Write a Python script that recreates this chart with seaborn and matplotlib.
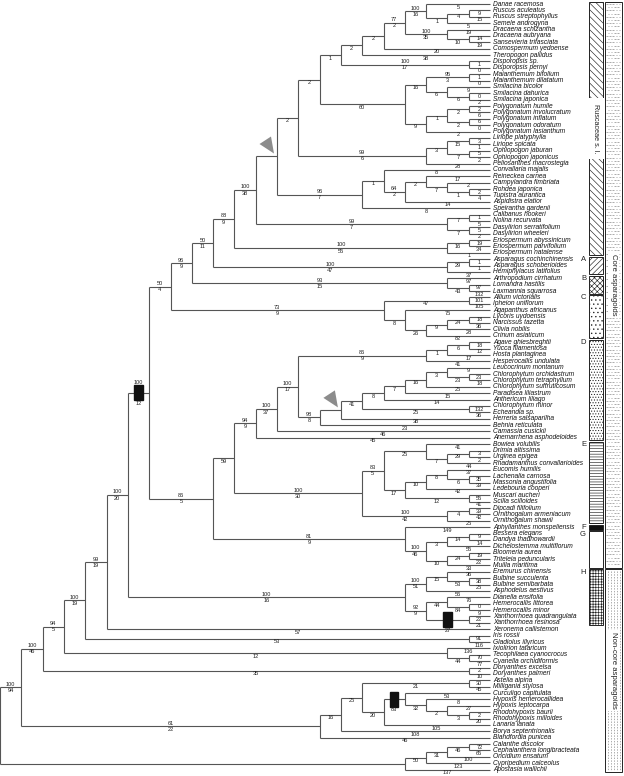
import re
import numpy as np
import matplotlib
matplotlib.use("Agg")
import matplotlib.pyplot as plt
from matplotlib.patches import Rectangle, Polygon
import seaborn as sns

# tree pieces in newick form; after ':' comes "above/below" branch text,
# '*' puts a black bar on the branch, '^' a grey triangle at its end
RUSC_CORE = ("((Danae_racemosa:5,((Ruscus_aculeatus:9,Ruscus_streptophyllus:15):4,Semele_androgyna:5):1):100/16,"
             "(Dracaena_schizantha:19,(Dracaena_aubryana:14,Sansevieria_trifasciata:19):10):100/35)")
POLYG = ("(((Maianthemum_bifolium:1,Maianthemum_dilatatum:0):95/3,(Smilacina_bicolor:9,(Smilacina_dahurica:0,"
         "Smilacina_japonica:2):6):6):16,(((Polygonatum_humile:2,Polygonatum_involucratum:6):2,(Polygonatum_inflatum:6,"
         "Polygonatum_odoratum:0):2):1,Polygonatum_lasianthum:2):9)")
OPHIO = ("(((Liriope_platyphylla:3,Liriope_spicata:1):15,(Ophiopogon_jaburan:5,Ophiopogon_japonicus:2):7):3,"
         "Peliosanthes_macrostegia:28)")
CONVAL = ("((Convallaria_majalis:8,((Reineckea_carnea:17,(Campylandra_fimbriata:2,(Rohdea_japonica:2,"
          "Tupistra_aurantica:4):1):7):2,Aspidistra_elatior:14):64/2):1,Speirantha_gardenii:8)")
NOLINA = "((Calibanus_hookeri:1,Nolina_recurvata:5):7,(Dasylirion_serratifolium:5,Dasylirion_wheeleri:2):7)"
ERIOSP = "((Eriospermum_abyssinicum:19,Eriospermum_parvifolium:34):16,Eriospermum_natalense:1)"
RUSCACEAE = ("((((((((" + RUSC_CORE + ":77/2,Comospermum_yedoense:20):2,Theropogon_pallidus:38):2,"
             "(Disporopsis_sp.:1,Disporopsis_pernyi:0):100/17):1," + POLYG + ":60):2," + OPHIO + ":99/6):2,"
             + CONVAL + ":96/7):^," + NOLINA + ":99/7):100/38," + ERIOSP + ":100/55)")
ASPARAGUS = "((Asparagus_cochinchinensis:1,Asparagus_schoberioides:1):29,Hemiphylacus_latifolius:37)"
LOMANDRA = "(Arthropodium_cirrhatum:97,(Lomandra_hastilis:97,Laxmannia_squarrosa:132):43)"
AMARYL = ("((Allium_victorialis:101,Ipheion_uniflorum:105):47,(Agapanthus_africanus:75,(((Lycoris_uydoensis:18,"
          "Narcissus_tazetta:36):24,Clivia_nobilis:28):9,Crinum_asiaticum:82):26):8)")
AGAVE = ("(((Agave_ghiesbreghtii:18,Yucca_filamentosa:12):6,Hosta_plantaginea:17):1,Hesperocallis_undulata:41)")
CHLORO = ("((((((Leucocrinum_montanum:9,(Chlorophytum_orchidastrum:23,Chlorophytum_tetraphyllum:18):23):3,"
          "Chlorophytum_suffruticosum:25):16,Paradisea_liliastrum:15):7,Anthericum_liliago:14):8,"
          "(Chlorophytum_minor:132,Echeandia_sp.:36):25):41,Herreria_salsaparilha:38)")
SCILLA = ("(((Bowiea_volubilis:41,((Drimia_altissima:3,Urginea_epigea:2):29,Rhadamanthus_convallarioides:44):7):25,"
          "(((Eucomis_humilis:37,(Lachenalia_carnosa:35,Massonia_angustifolia:39):6):8,Ledebouria_cooperi:42):10,"
          "(Muscari_aucheri:55,Scilla_scilloides:41):12):17):83/5,((Dipcadi_filifolium:39,"
          "Ornithogalum_armeniacum:42):4,Ornithogalum_shawii:25):100/42)")
ASPHOD = ("((((" + AGAVE + ":86/9,(" + CHLORO + ":^,Behnia_reticulata:23):98/8):100/17,Camassia_cusickii:46):100/37,"
          "Anemarrhena_asphodeloides:45):94/9," + SCILLA + ":100/30)")
THEMID = ("(Aphyllanthes_monspeliensis:149,(((Bessera_elegans:9,Dandya_thadhowardii:14):14,"
          "Dichelostemma_multiflorum:55):3,((Bloomeria_aurea:19,Triteleia_peduncularis:22):24,Muilla_maritima:33):10):100/46)")
CORE = ("((((" + RUSCACEAE + ":88/9," + ASPARAGUS + ":100/47):50/11," + LOMANDRA + ":93/15):96/9," + AMARYL
        + ":73/9):50/4,(" + ASPHOD + ":59," + THEMID + ":81/9):86/5)")
XANTHO = ("(((Eremurus_chinensis:36,(Bulbine_succulenta:38,Bulbine_semibarbata:25):53):15,Asphodelus_aestivus:56):100/51,"
          "((Dianella_ensifolia:76,(Hemerocallis_littorea:0,Hemerocallis_minor:9):84):44,"
          "(Xanthorrhoea_quadrangulata:22,Xanthorrhoea_resinosa:21):*27):92/9)")
HYPOX = ("((((Astelia_alpina:30,Milligania_stylosa:45):21,((Curculigo_capitulata:53,(Hypoxis_hemerocallidea:8,"
         "(Hypoxis_leptocarpa:27,(Rhodohypoxis_baurii:2,Rhodohypoxis_milloides:20):3):2):32):*/83,Lanaria_lanata:105):20):25,"
         "Borya_septentrionalis:108):16,Blandfordia_punicea:46)")
ORCHIDS = ("((((Calanthe_discolor:72,Cephalanthera_longibracteata:65):46,Oncidium_ensatum:100):31,"
           "Cypripedium_calceolus:123):50,Apostasia_wallichii:137)")
TREE = ("(((((((" + CORE + ":*100/12," + XANTHO + ":100/16):100/20,Xeronema_callistemon:57):99/19,"
        "(Iris_rossii:91,Gladiolus_illyricus:116):53):100/19,(Ixiolirion_tataricum:136,(Tecophilaea_cyanocrocus:70,"
        "Cyanella_orchidiformis:77):44):12):94/5,(Doryanthes_excelsa:2,Doryanthes_palmeri:10):35):100/46,"
        + HYPOX + ":61/22):100/94," + ORCHIDS + ")")

# side bars: letter, first and last taxon, fill
FAM_LETTER = ["", "A", "B", "C", "D", "E", "F", "G", "H"]
FAM_FIRST = ["Danae racemosa", "Asparagus cochinchinensis", "Arthropodium cirrhatum", "Allium victorialis",
             "Agave ghiesbreghtii", "Bowiea volubilis", "Aphyllanthes monspeliensis", "Bessera elegans",
             "Eremurus chinensis"]
FAM_LAST = ["Eriospermum natalense", "Hemiphylacus latifolius", "Laxmannia squarrosa", "Crinum asiaticum",
            "Anemarrhena asphodeloides", "Ornithogalum shawii", "Aphyllanthes monspeliensis", "Muilla maritima",
            "Xanthorrhoea resinosa"]
FAM_HATCH = ["\\\\\\\\\\", "//////", "xxxxxx", "....", "......", "------", None, None, "++++++"]
GROUP_NAMES = ["Core asparagoids", "Non-core asparagoids"]
GROUP_FIRST = ["Danae racemosa", "Eremurus chinensis"]
GROUP_LAST = ["Muilla maritima", "Apostasia wallichii"]


def parse(s):
    s = s.replace(" ", "")
    pos = 0

    def node():
        nonlocal pos
        n = {"kids": [], "name": None}
        if s[pos] == "(":
            pos += 1
            while True:
                n["kids"].append(node())
                ch = s[pos]
                pos += 1
                if ch == ")":
                    break
        else:
            m = re.match(r"[^:,()]+", s[pos:])
            n["name"] = m.group(0).replace("_", " ")
            pos += m.end()
        lab = ""
        if pos < len(s) and s[pos] == ":":
            m = re.match(r":([^,()]*)", s[pos:])
            lab = m.group(1)
            pos += m.end()
        n["box"] = "*" in lab
        n["tri"] = "^" in lab
        lab = lab.replace("*", "").replace("^", "")
        up, _, lo = lab.rpartition("/")
        n["up"], n["lo"] = up, lo
        return n

    return node()


X_TIP, STEP, Y0, DY = 490.0, 21.3, 4.0, 6.38
tips = []


def layout(n):
    if not n["kids"]:
        n["h"] = 0
        n["y"] = Y0 + DY * len(tips)
        tips.append(n)
    else:
        for k in n["kids"]:
            layout(k)
        n["h"] = 1 + max(k["h"] for k in n["kids"])
        n["y"] = (n["kids"][0]["y"] + n["kids"][-1]["y"]) / 2
    n["x"] = X_TIP - STEP * n["h"]


root = parse(TREE)
layout(root)
tip_y = {t["name"]: t["y"] for t in tips}

sns.set_theme(style="white")
plt.rcParams["font.family"] = ["Liberation Sans", "DejaVu Sans"]
plt.rcParams["hatch.linewidth"] = 0.45

fig = plt.figure(figsize=(6.24, 7.76), dpi=100)
ax = fig.add_axes([0, 0, 1, 1])
ax.set_xlim(0, 624)
ax.set_ylim(776, 0)
ax.axis("off")

LC = "#555555"
LW = 0.8
NUM = dict(fontsize=4.1, color="#222222", ha="center")


def draw(n):
    if not n["kids"]:
        ax.text(n["x"] + 3, n["y"], n["name"], fontsize=4.75, style="italic", va="center", ha="left",
                color="#111111")
        return
    ax.vlines(n["x"], n["kids"][0]["y"], n["kids"][-1]["y"], color=LC, lw=LW)
    for k in n["kids"]:
        ax.hlines(k["y"], n["x"], k["x"], color=LC, lw=LW)
        mid = (n["x"] + k["x"]) / 2
        off = 0.6
        if k["box"]:
            ax.add_patch(Rectangle((mid - 4.3, k["y"] - 7.5), 8.6, 15, color="#111111", zorder=3))
            off = 8
        if k["up"]:
            ax.text(mid, k["y"] - off, k["up"], va="bottom", **NUM)
        if k["lo"]:
            ax.text(mid, k["y"] + off, k["lo"], va="top", **NUM)
        if k["tri"]:
            tx, ty = k["x"], k["y"]
            ax.add_patch(Polygon([(tx - 17.5, ty - 12), (tx - 6, ty - 19.5), (tx - 3, ty - 2.5)],
                                 closed=True, color="#8c8c8c", lw=0, zorder=3))
        draw(k)


draw(root)

# family bars
BX0, BW = 589, 14
for let, a, b, h in zip(FAM_LETTER, FAM_FIRST, FAM_LAST, FAM_HATCH):
    top, bot = tip_y[a] - 2.5, tip_y[b] + 2.5
    fc = "#111111" if let == "F" else "white"
    ax.add_patch(Rectangle((BX0, top), BW, bot - top, facecolor=fc, edgecolor="#222222",
                           hatch=h, lw=0.7))
    if let:
        ax.text(BX0 - 3, top + 3, let, fontsize=5.5, ha="right", va="center", color="#222222")
    else:
        ax.text(BX0 + BW / 2, (top + bot) / 2, "Ruscaceae s. l.", rotation=270, fontsize=5.2,
                ha="center", va="center", color="#222222",
                bbox=dict(facecolor="white", edgecolor="none", pad=4))

# core / non-core bars with dashed fill
GX0, GW = 605, 17
for gi, (name, a, b) in enumerate(zip(GROUP_NAMES, GROUP_FIRST, GROUP_LAST)):
    top, bot = tip_y[a] - 2.5, tip_y[b] + 2.5
    ax.add_patch(Rectangle((GX0, top), GW, bot - top, facecolor="white", edgecolor="#222222", lw=0.7))
    if gi == 0:
        rows = np.arange(top + 2.5, bot - 1, 3.2)
        for i, ry in enumerate(rows):
            shift = 1.5 if i % 2 else 0
            xs = np.arange(GX0 + 1 + shift, GX0 + GW - 2, 3.2)
            ax.hlines(np.full(len(xs), ry), xs, xs + 1.6, color="#8a8a8a", lw=0.5)
    else:
        for cx in np.arange(GX0 + 2.5, GX0 + GW - 1, 3.0):
            ax.vlines(cx, top + 1.5, bot - 1.5, color="#8a8a8a", lw=0.5, linestyles=(0, (2, 2)))
    ax.text(GX0 + GW / 2, (top + bot) / 2, name, rotation=270, fontsize=5.6, ha="center", va="center",
            color="#222222", bbox=dict(facecolor="white", edgecolor="none", pad=1.5))

fig.savefig("out.png", dpi=100)
